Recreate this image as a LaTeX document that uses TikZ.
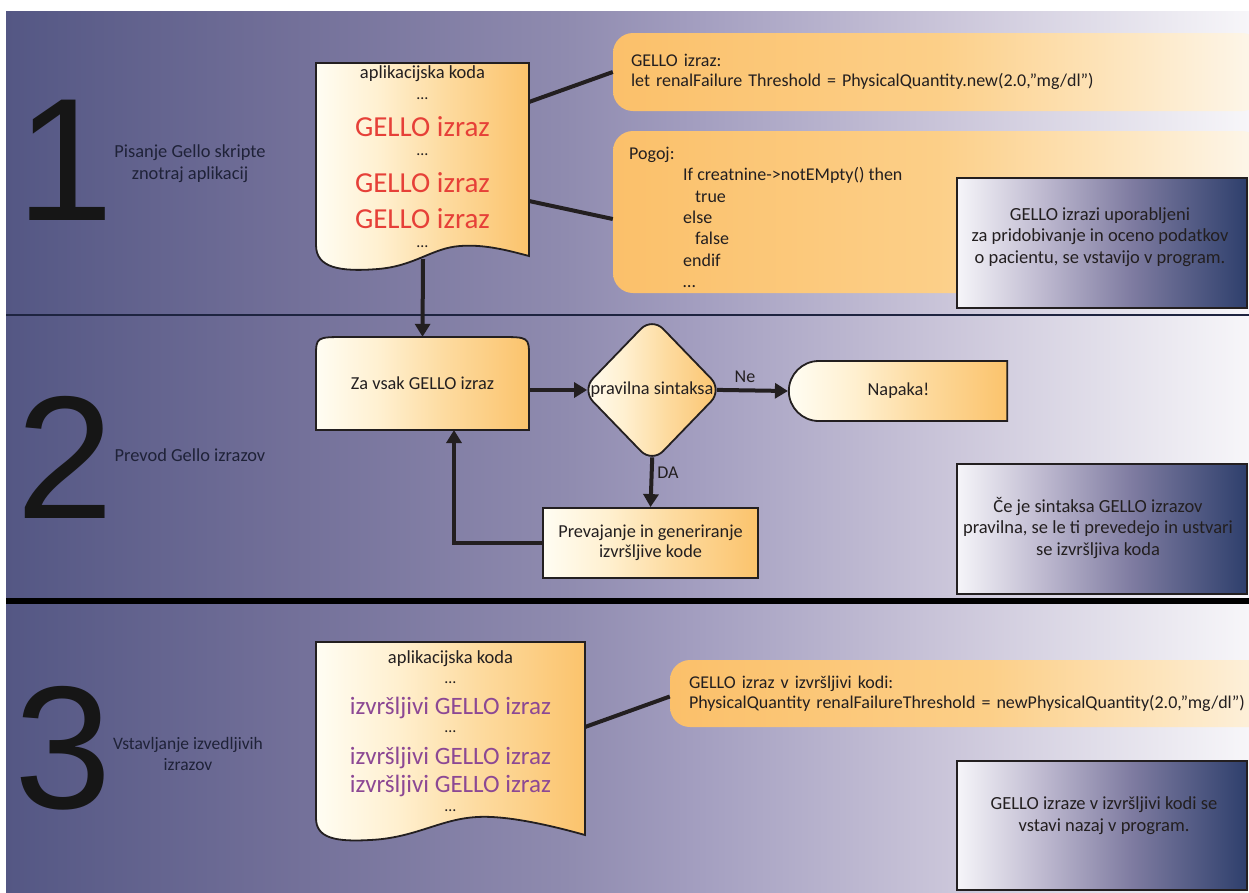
\documentclass[tikz,border=0pt]{standalone}
\usepackage{fontspec}
\setmainfont{Carlito}
\newfontfamily\digitfont{Liberation Sans}
\usetikzlibrary{arrows.meta,shapes.geometric,shapes.misc,calc}

\definecolor{ink}{HTML}{231F20}
\definecolor{labelink}{HTML}{1F2238}
\definecolor{digitink}{HTML}{161616}
\definecolor{gred}{RGB}{230,64,56}
\definecolor{gpurp}{RGB}{140,72,148}
\definecolor{navyline}{RGB}{30,36,64}

\definecolor{bgA}{HTML}{545784}
\definecolor{bgB}{HTML}{74719A}
\definecolor{bgC}{HTML}{8F8BAF}
\definecolor{bgD}{HTML}{A29DBF}
\definecolor{bgE}{HTML}{CBC6DA}
\definecolor{bgF}{HTML}{F7F6F9}
\pgfdeclarehorizontalshading{bgshade}{100bp}{color(0bp)=(bgA); color(25bp)=(bgA); color(37bp)=(bgB); color(47.5bp)=(bgC); color(52.5bp)=(bgD); color(63bp)=(bgE); color(75bp)=(bgF); color(100bp)=(bgF)}

\definecolor{dcA}{HTML}{FFFDF3}
\definecolor{dcB}{HTML}{FFF0D0}
\definecolor{dcC}{HTML}{FDDBA0}
\definecolor{dcD}{HTML}{FBC36C}
\pgfdeclarehorizontalshading{docshade}{100bp}{color(0bp)=(dcA); color(25bp)=(dcA); color(40bp)=(dcB); color(55bp)=(dcC); color(75bp)=(dcD); color(100bp)=(dcD)}

\definecolor{caA}{HTML}{FBC06A}
\definecolor{caB}{HTML}{FCCF88}
\definecolor{caC}{HTML}{FDE2B6}
\definecolor{caD}{HTML}{FDF7EC}
\pgfdeclarehorizontalshading{callshade}{100bp}{color(0bp)=(caA); color(25bp)=(caA); color(50bp)=(caB); color(62bp)=(caC); color(75bp)=(caD); color(100bp)=(caD)}

\definecolor{dkA}{HTML}{F6F5F9}
\definecolor{dkB}{HTML}{BDB8CF}
\definecolor{dkC}{HTML}{7F7CA1}
\definecolor{dkD}{HTML}{2E3F6C}
\pgfdeclarehorizontalshading{darkshade}{100bp}{color(0bp)=(dkA); color(25bp)=(dkA); color(40bp)=(dkB); color(55bp)=(dkC); color(75bp)=(dkD); color(100bp)=(dkD)}

\begin{document}
\begin{tikzpicture}[x=1pt,y=-1pt,
  body/.style={font=\fontsize{18}{21}\selectfont, text=ink, inner sep=0pt},
  seclabel/.style={font=\fontsize{18.4}{22}\selectfont, text=labelink, align=center, inner sep=0pt},
  digit/.style={font=\digitfont\fontsize{175}{175}\selectfont, text=digitink, inner sep=0pt},
  docshape/.style={shading=docshade, draw=ink, line width=1.8pt},
  doctext/.style={font=\fontsize{18.5}{20}\selectfont, text=ink, inner sep=0pt},
  dots/.style={font=\fontsize{16}{17}\selectfont, text=ink, inner sep=0pt},
  redtext/.style={font=\fontsize{29}{31}\selectfont, text=gred, inner sep=0pt},
  purptext/.style={font=\fontsize{25}{27}\selectfont, text=gpurp, inner sep=0pt},
  callout/.style={shading=callshade, rounded corners=20pt, inner xsep=18pt, inner ysep=0pt,
     align=left, text width=613pt, font=\fontsize{18}{20}\selectfont, text=ink},
  darkbox/.style={shading=darkshade, draw=ink, line width=1.5pt, minimum width=290pt,
     minimum height=130pt},
  darktext/.style={align=center, font=\fontsize{18.5}{21.5}\selectfont, text=ink, inner sep=0pt},
  flowbox/.style={shading=docshade, draw=ink, line width=1.8pt, font=\fontsize{18.3}{20}\selectfont,
     text=ink, align=center},
  conn/.style={draw=ink, line width=4pt},
  arr/.style={conn, -{Triangle[length=13pt,width=15pt]}},
  edgelabel/.style={font=\fontsize{18}{20}\selectfont, text=ink, inner sep=0pt}
]
\useasboundingbox (0,0) rectangle (1249,892);
\fill[white] (0,0) rectangle (1249,892);
\begin{scope}
\clip (6,11) rectangle (1249,892);
\shade[shading=bgshade] (6,11) rectangle (1249,892);
\draw[line width=2.5pt, navyline] (6,315) -- (1249,315);
\draw[line width=6pt, black] (6,601) -- (1249,601);

% ---------- section labels ----------
\node[digit] (n1) at (65,160) {1};
\node[digit] (n2) at (65,457) {2};
\node[digit] (n3) at (63,748) {3};
\node[seclabel] (s1) at (190,164) {Pisanje Gello skripte\\znotraj aplikacij};
\node[seclabel] (s2) at (190,455) {Prevod Gello izrazov};
\node[seclabel, font=\fontsize{17.5}{21}\selectfont] (s3) at (188,754) {Vstavljanje izvedljivih\\izrazov};

% ---------- section 1 ----------
\shadedraw[docshape] (316,63) -- (529,63) -- (529,256)
  .. controls (510,251) and (485,244) .. (460,246)
  .. controls (432,248) and (415,266) .. (378,269)
  .. controls (340,272) and (316,268) .. (316,245) -- cycle;
\node[doctext] (d1t1) at (422.5,74) {aplikacijska koda};
\node[dots] (d1t2) at (422.5,99) {…};
\node[redtext] (d1t3) at (422.5,127) {GELLO izraz};
\node[dots] (d1t4) at (422.5,155) {…};
\node[redtext] (d1t5) at (422.5,183) {GELLO izraz};
\node[redtext] (d1t6) at (422.5,219) {GELLO izraz};
\node[dots] (d1t7) at (422.5,247) {…};
\coordinate (d1r1) at (529,102);
\coordinate (d1r2) at (529,201);
\coordinate (d1b) at (423,259);

\node[callout, minimum height=78pt] (call1) at (937.5,72)
  {GELLO izraz:\\let renalFailure Threshold = PhysicalQuantity.new(2.0,"mg/dl")};
\node[callout, minimum height=162pt] (call2) at (937.5,212) {};
\node[body, anchor=north west, align=left, font=\fontsize{18}{21.3}\selectfont] (pogoj) at (629,147)
  {Pogoj:\\\hspace*{54pt}If creatnine->notEMpty() then\\\hspace*{66pt}true\\\hspace*{54pt}else\\\hspace*{66pt}false\\\hspace*{54pt}endif\\\hspace*{54pt}…};

\node[darkbox] (note1) at (1102,243) {};
\node[darktext] (note1t) at (1100,237)
  {GELLO izrazi uporabljeni\\za pridobivanje in oceno podatkov\\o pacientu, se vstavijo v program.};

% ---------- section 2 ----------
\shadedraw[docshape] (316,430) -- (316,357) .. controls (316,337) and (316,337) .. (346,337)
  -- (499,337) .. controls (529,337) and (529,337) .. (529,357) -- (529,430) -- cycle;
\node[body, font=\fontsize{18.3}{20}\selectfont, minimum width=213pt, minimum height=93pt] (zavsak) at (422.5,383.5) {Za vsak GELLO izraz};
\node[flowbox, shape=diamond, rounded corners=16pt, inner sep=0pt, minimum width=141pt,
  minimum height=146pt] (dia) at (652,390) {pravilna sintaksa};
\node[flowbox, shape=rounded rectangle, rounded rectangle right arc=none,
  minimum width=225pt, minimum height=60pt] (nap) at (898.5,391) {Napaka!};
\node[flowbox, minimum width=215pt, minimum height=70pt] (prev) at (650.5,543)
  {Prevajanje in generiranje\\izvršljive kode};
\node[edgelabel] (ne) at (745,377) {Ne};
\node[edgelabel] (da) at (668,473) {DA};
\coordinate (loopx) at (454,430);

\node[darkbox] (note2) at (1102,529) {};
\node[darktext] (note2t) at (1098,528)
  {Če je sintaksa GELLO izrazov\\pravilna, se le ti prevedejo in ustvari\\se izvršljiva koda};

% ---------- section 3 ----------
\shadedraw[docshape] (316,642) -- (585,642) -- (585,835)
  .. controls (560,828) and (510,815) .. (477,817)
  .. controls (440,819) and (415,838) .. (370,840)
  .. controls (335,842) and (316,838) .. (316,818) -- cycle;
\node[doctext] (d3t1) at (450.5,659) {aplikacijska koda};
\node[dots] (d3t2) at (450.5,683) {…};
\node[purptext] (d3t3) at (450.5,708) {izvršljivi GELLO izraz};
\node[dots] (d3t4) at (450.5,732) {…};
\node[purptext] (d3t5) at (450.5,758) {izvršljivi GELLO izraz};
\node[purptext] (d3t6) at (450.5,786) {izvršljivi GELLO izraz};
\node[dots] (d3t7) at (450.5,811) {…};
\coordinate (d3r) at (585,727);

\node[callout, minimum height=67pt, inner xsep=19pt, text width=600pt] (call3) at (989,693.5)
  {GELLO izraz v izvršljivi kodi:\\PhysicalQuantity renalFailureThreshold = newPhysicalQuantity(2.0,"mg/dl")};

\node[darkbox, minimum height=129pt] (note3) at (1102,825.5) {};
\node[darktext] (note3t) at (1104,815.5)
  {GELLO izraze v izvršljivi kodi se\\vstavi nazaj v program.};

% ---------- connectors ----------
\draw[arr] (d1b) -- (zavsak.north);
\draw[conn] (d1r1) -- (call1.west);
\draw[conn] (d1r2) -- ([yshift=-7pt]call2.west);
\draw[conn] (d3r) -- ([yshift=-3pt]call3.west);
\draw[arr, shorten >=-6.5pt] (zavsak.east |- dia.west) -- (dia.west);
\draw[arr, shorten <=-6.5pt] (dia.east) -- (nap.west);
\draw[arr, shorten <=-6.5pt] (dia.south) -- (prev.north);
\draw[arr] (prev.west) -| (loopx);
\end{scope}
\end{tikzpicture}
\end{document}
